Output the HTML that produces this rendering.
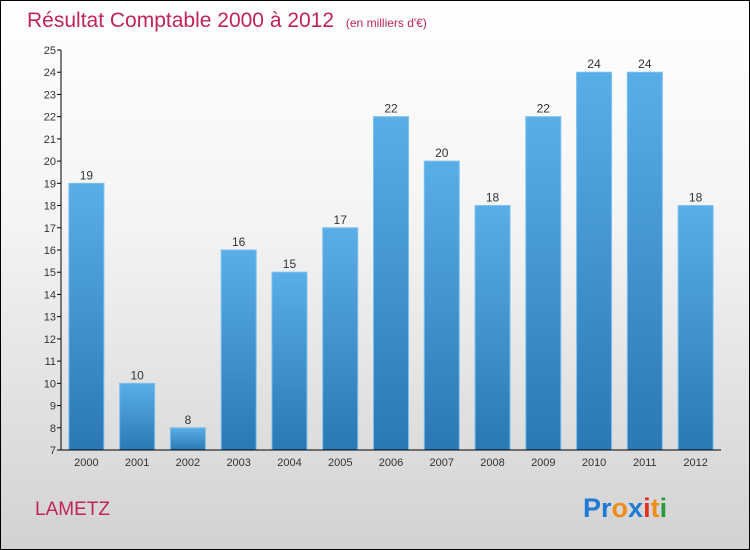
<!DOCTYPE html>
<html><head><meta charset="utf-8"><style>
body{margin:0}
#c{width:750px;height:550px;position:relative;box-sizing:border-box;border:1px solid #000;background:linear-gradient(#ffffff 0%,#f4f4f4 40%,#d2d2d2 100%);font-family:"Liberation Sans",sans-serif;overflow:hidden}
</style></head><body>
<div id="c">
<svg width="750" height="550" style="position:absolute;left:-1px;top:-1px">
<defs><linearGradient id="bg" x1="0" y1="0" x2="0" y2="1"><stop offset="0" stop-color="#5aaee8"/><stop offset="1" stop-color="#2a78b4"/></linearGradient></defs>
<text x="27" y="27" font-size="21" fill="#c0245a">Résultat Comptable 2000 à 2012 <tspan font-size="12" dx="6">(en milliers d'€)</tspan></text>
<g id="g"></g>
<text x="35" y="515" font-size="19" fill="#c0245a">LAMETZ</text>
<text x="583" y="517" font-size="27" font-weight="bold"><tspan fill="#1f7ad6">Pr</tspan><tspan fill="#f08c1a">o</tspan><tspan fill="#1f7ad6">x</tspan><tspan fill="#e03020">i</tspan><tspan fill="#f08c1a">t</tspan><tspan fill="#2a9a3a">i</tspan></text>
</svg>
</div>
<script>
const categories=["2000","2001","2002","2003","2004","2005","2006","2007","2008","2009","2010","2011","2012"];
const values=[19,10,8,16,15,17,22,20,18,22,24,24,18];
const yTicks=[7,8,9,10,11,12,13,14,15,16,17,18,19,20,21,22,23,24,25];
const NS="http://www.w3.org/2000/svg";
const g=document.getElementById('g');
const x0=61,x1=721,yTop=50,yBot=450,yMin=7,yMax=25;
const y=v=>yBot-(v-yMin)/(yMax-yMin)*(yBot-yTop);
const slot=(x1-x0)/categories.length;
const xc=i=>x0+slot*(i+0.5);
function el(t,a){const e=document.createElementNS(NS,t);for(const k in a)e.setAttribute(k,a[k]);g.appendChild(e);return e;}
yTicks.forEach(t=>{
 const l=el('line',{x1:x0-4,x2:x0,y1:y(t),y2:y(t),stroke:'#000'});
 
 
 const tx=el('text',{x:x0-5,y:y(t)+4,'font-size':11,'text-anchor':'end',fill:'#333'});
 tx.textContent=t;
 
 
});
values.forEach((v,i)=>{
 const r=el('rect',{x:xc(i)-17.5,y:y(v),width:35,height:yBot-y(v),fill:'url(#bg)',stroke:'#7cc0ee','stroke-width':1});
 
 
 const vt=el('text',{x:xc(i),y:y(v)-4,'font-size':12,'text-anchor':'middle',fill:'#333'});
 vt.textContent=v;
 
 
 const ct=el('text',{x:xc(i),y:yBot+16,'font-size':11,'text-anchor':'middle',fill:'#333'});
 ct.textContent=categories[i];
 
 
});
const ya=el('line',{x1:x0,x2:x0,y1:yTop,y2:yBot,stroke:'#000'});


const xa=el('line',{x1:x0,x2:x1,y1:yBot,y2:yBot,stroke:'#000'});


</script>
</body></html>
